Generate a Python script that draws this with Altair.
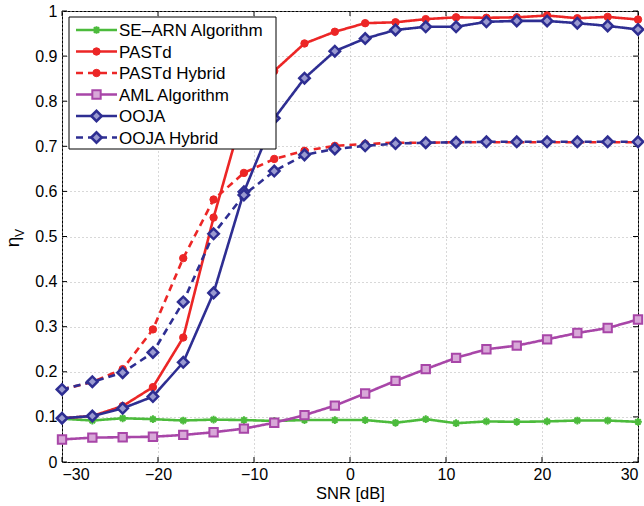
import altair as alt
import pandas as pd

# SNR sweep [dB]
snr = [-30, -26.84, -23.68, -20.53, -17.37, -14.21, -11.05, -7.89, -4.74, -1.58,
       1.58, 4.74, 7.89, 11.05, 14.21, 17.37, 20.53, 23.68, 26.84, 30]

# eta_V per algorithm
se_arn = [0.096, 0.092, 0.097, 0.095, 0.092, 0.094, 0.093, 0.091, 0.093, 0.093,
          0.093, 0.087, 0.095, 0.086, 0.090, 0.089, 0.090, 0.092, 0.092, 0.089]
pastd = [0.097, 0.102, 0.124, 0.166, 0.276, 0.542, 0.780, 0.867, 0.928, 0.954,
         0.973, 0.975, 0.982, 0.986, 0.985, 0.986, 0.990, 0.984, 0.987, 0.981]
pastd_hybrid = [0.161, 0.177, 0.206, 0.294, 0.452, 0.582, 0.641, 0.672, 0.690, 0.701,
                0.705, 0.708, 0.708, 0.709, 0.709, 0.709, 0.709, 0.709, 0.709, 0.709]
aml = [0.050, 0.054, 0.055, 0.056, 0.060, 0.066, 0.074, 0.087, 0.104, 0.125,
       0.152, 0.180, 0.206, 0.231, 0.250, 0.258, 0.272, 0.286, 0.297, 0.316]
ooja = [0.097, 0.102, 0.119, 0.145, 0.221, 0.375, 0.599, 0.762, 0.851, 0.911,
        0.939, 0.958, 0.965, 0.965, 0.976, 0.978, 0.978, 0.973, 0.967, 0.959]
ooja_hybrid = [0.161, 0.178, 0.198, 0.243, 0.355, 0.506, 0.592, 0.645, 0.681, 0.694,
               0.701, 0.706, 0.708, 0.709, 0.710, 0.710, 0.710, 0.710, 0.710, 0.710]

names = ["SE\u2013ARN Algorithm", "PASTd", "PASTd Hybrid", "AML Algorithm", "OOJA", "OOJA Hybrid"]
values = [se_arn, pastd, pastd_hybrid, aml, ooja, ooja_hybrid]

x_ticks = [-30, -20, -10, 0, 10, 20, 30]
y_ticks = [0, 0.1, 0.2, 0.3, 0.4, 0.5, 0.6, 0.7, 0.8, 0.9, 1]

GREEN, RED, PURPLE, BLUE = "#4cbb3c", "#ec2626", "#a846a8", "#2e2e92"
ASTERISK = "M-1,0L1,0M0,-1L0,1M-0.7,-0.7L0.7,0.7M-0.7,0.7L0.7,-0.7"

styles = [
    dict(color=GREEN, dash=[1, 0], shape=ASTERISK, size=60, fill=None, sw=2),
    dict(color=RED, dash=[1, 0], shape="circle", size=55, fill=RED, sw=1),
    dict(color=RED, dash=[7, 5], shape="circle", size=55, fill=RED, sw=1),
    dict(color=PURPLE, dash=[1, 0], shape="square", size=70, fill="#d8a8d8", sw=2),
    dict(color=BLUE, dash=[1, 0], shape="diamond", size=110, fill="#9a9ad0", sw=2.5),
    dict(color=BLUE, dash=[7, 5], shape="diamond", size=110, fill="#9a9ad0", sw=2.5),
]

W, H = 576, 451
FONT = "Liberation Sans"
X_DOM, Y_DOM = [-30, 30], [0, 1]
x_scale = alt.Scale(domain=X_DOM, nice=False, zero=False)
y_scale = alt.Scale(domain=Y_DOM, nice=False, zero=False)

x_axis = alt.Axis(values=x_ticks, format="d", grid=True, gridColor="#b0b0b0",
                  gridDash=[1, 3], gridWidth=1, ticks=False, domain=False,
                  labelFont=FONT, labelFontSize=16, labelColor="black", labelPadding=4,
                  title="SNR [dB]", titleFont=FONT, titleFontSize=16.5,
                  titleFontWeight="normal", titleColor="black", titlePadding=3)
y_axis = alt.Axis(values=y_ticks, format="~g", grid=True, gridColor="#b0b0b0",
                  gridDash=[1, 3], gridWidth=1, ticks=False, domain=False,
                  labelFont=FONT, labelFontSize=16, labelColor="black", labelPadding=5,
                  title=None)


def xq(field):
    return alt.X(field, scale=x_scale, axis=x_axis)


def yq(field):
    return alt.Y(field, scale=y_scale, axis=y_axis)


def point_props(st):
    pt = dict(shape=st["shape"], size=st["size"], stroke=st["color"],
              strokeWidth=st["sw"], opacity=1)
    if st["fill"]:
        pt.update(filled=True, fill=st["fill"])
    else:
        pt.update(filled=False)
    return pt


plot_layers = []

# inward tick marks on all four sides of the box
xt = pd.DataFrame({"snr": x_ticks})
yt = pd.DataFrame({"eta": y_ticks})
for y0, y1 in [(H, H - 5), (0, 5)]:
    plot_layers.append(alt.Chart(xt).mark_rule(color="black", strokeWidth=1).encode(
        x=xq("snr:Q"), y=alt.value(y0), y2=alt.value(y1)))
for x0, x1 in [(0, 5), (W, W - 5)]:
    plot_layers.append(alt.Chart(yt).mark_rule(color="black", strokeWidth=1).encode(
        y=yq("eta:Q"), x=alt.value(x0), x2=alt.value(x1)))

# data series
for name, vals, st in zip(names, values, styles):
    df = pd.DataFrame({"snr": snr, "eta": vals, "series": name})
    plot_layers.append(alt.Chart(df).mark_line(
        color=st["color"], strokeWidth=2.6, strokeDash=st["dash"]).encode(
        x=xq("snr:Q"), y=yq("eta:Q")))
    plot_layers.append(alt.Chart(df).mark_point(**point_props(st)).encode(
        x=xq("snr:Q"), y=yq("eta:Q")))

# legend panel, placed in axis units so it shares the plot's scales
LX0, LX1, LY0, LY1 = 7, 214, 6, 138  # panel edges in plot pixels


def px_to_snr(px):
    return X_DOM[0] + px * (X_DOM[1] - X_DOM[0]) / W


def px_to_eta(py):
    return Y_DOM[1] - py * (Y_DOM[1] - Y_DOM[0]) / H


panel = pd.DataFrame({"a": [px_to_snr(LX0)], "b": [px_to_snr(LX1)],
                      "c": [px_to_eta(LY1)], "d": [px_to_eta(LY0)]})
legend_layers = [
    alt.Chart(panel).mark_rect(fill="white", stroke="black", strokeWidth=1, opacity=1).encode(
        x=xq("a:Q"), x2="b:Q", y=yq("c:Q"), y2="d:Q"),
]

one_row = pd.DataFrame({"k": [0]})
row_y = [19, 40.5, 62, 83.5, 105, 126.5]
for name, st, ry in zip(names, styles, row_y):
    one = pd.DataFrame({"label": [name]})
    legend_layers.append(alt.Chart(one).mark_rule(
        color=st["color"], strokeWidth=2.6, strokeDash=st["dash"]).encode(
        x=alt.value(14), x2=alt.value(55), y=alt.value(ry)))
    legend_layers.append(alt.Chart(one).mark_point(**point_props(st)).encode(
        x=alt.value(34.5), y=alt.value(ry)))
    legend_layers.append(alt.Chart(one).mark_text(
        align="left", baseline="middle", font=FONT, fontSize=17, color="black").encode(
        x=alt.value(57), y=alt.value(ry + 1), text="label:N"))

# y-axis title: eta with subscript V
legend_layers.append(alt.Chart(one_row).mark_text(
    text="\u03b7", angle=270, align="center", baseline="middle",
    font=FONT, fontSize=19, color="black").encode(x=alt.value(-49), y=alt.value(231)))
legend_layers.append(alt.Chart(one_row).mark_text(
    text="V", angle=270, align="center", baseline="middle",
    font=FONT, fontSize=12, color="black").encode(x=alt.value(-42), y=alt.value(222)))

chart = alt.layer(*plot_layers, *legend_layers).properties(
    width=W, height=H,
    autosize=alt.AutoSizeParams(type="none"),
    padding={"left": 62, "top": 11, "right": 6, "bottom": 44},
    background="white",
).configure_view(stroke="black", strokeWidth=1)

chart.save("out.html", embed_options={"renderer": "svg", "actions": False})
